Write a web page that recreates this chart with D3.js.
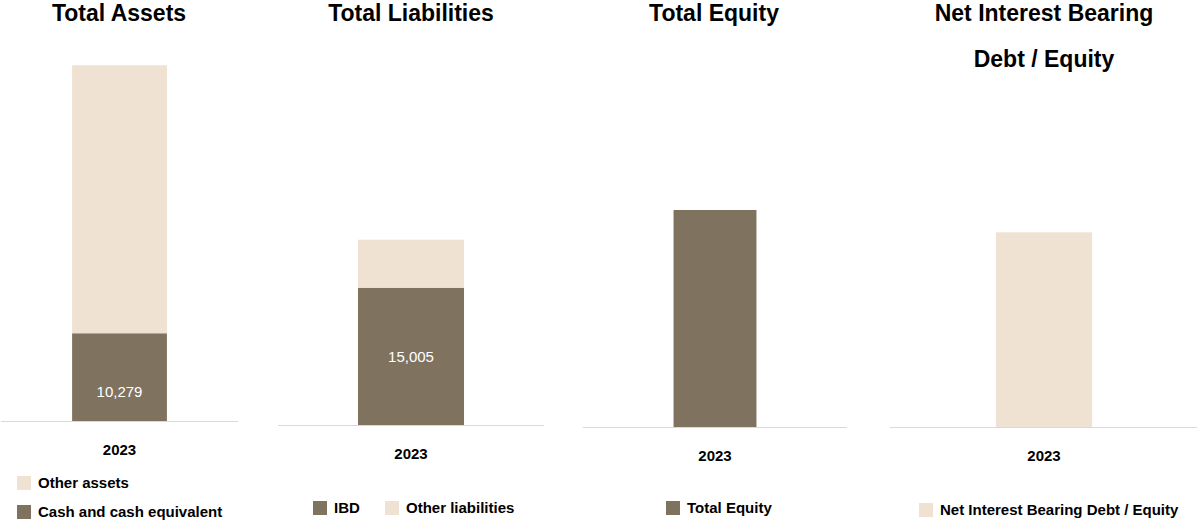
<!DOCTYPE html>
<html>
<head>
  <title>Balance sheet 2023</title>
  <script src="https://d3js.org/d3.v7.min.js"></script>
  <style>
    body { margin: 0; background: #fff; }
    text { font-family: "Liberation Sans", Arial, sans-serif; }
  </style>
</head>
<body>
  <div id="chart"></div>

  <script>
    // values (2023)
    var years = ["2023"];
    var cashValues = [10279];
    var otherAssetsValues = [31400];
    var ibdValues = [15005];
    var otherLiabilitiesValues = [5250];
    var equityValues = [21430];
    var nibdEquityValues = [0.22];

    var dark = "#7f735f";
    var light = "#efe2d3";

    var panels = [
      {
        title: ["Total Assets"], titleX: 119,
        x0: 1, x1: 238, base: 421, yMax: 41700, top: 65, pad: 0.4286,
        series: [
          {name: "Cash and cash equivalent", values: cashValues, color: dark, label: true, labelShift: 15},
          {name: "Other assets", values: otherAssetsValues, color: light}
        ],
        legend: [
          {name: "Other assets", color: light, x: 17, y: 483},
          {name: "Cash and cash equivalent", color: dark, x: 17, y: 512}
        ],
        yearY: 455
      },
      {
        title: ["Total Liabilities"], titleX: 411,
        x0: 278, x1: 544, base: 425, yMax: 39350, top: 65, pad: 0.43,
        series: [
          {name: "IBD", values: ibdValues, color: dark, label: true, labelShift: 1},
          {name: "Other liabilities", values: otherLiabilitiesValues, color: light}
        ],
        legend: [
          {name: "IBD", color: dark, x: 313, y: 508},
          {name: "Other liabilities", color: light, x: 385, y: 508}
        ],
        yearY: 459
      },
      {
        title: ["Total Equity"], titleX: 714,
        x0: 583, x1: 847, base: 427, yMax: 35750, top: 65, pad: 0.522,
        series: [
          {name: "Total Equity", values: equityValues, color: dark}
        ],
        legend: [
          {name: "Total Equity", color: dark, x: 666, y: 508}
        ],
        yearY: 461
      },
      {
        title: ["Net Interest Bearing", "Debt / Equity"], titleX: 1044,
        x0: 890, x1: 1198, base: 427, yMax: 0.409, top: 65, pad: 0.524,
        series: [
          {name: "Net Interest Bearing Debt / Equity", values: nibdEquityValues, color: light}
        ],
        legend: [
          {name: "Net Interest Bearing Debt / Equity", color: light, x: 919, y: 510}
        ],
        yearY: 461
      }
    ];

    var svg = d3.select("#chart")
      .append("svg")
      .attr("width", 1197)
      .attr("height", 521);

    panels.forEach(function(p) {
      var g = svg.append("g");

      var x = d3.scaleBand()
        .domain(years)
        .range([p.x0, p.x1])
        .padding(p.pad);

      var y = d3.scaleLinear()
        .domain([0, p.yMax])
        .range([p.base, p.top]);

      // titles
      p.title.forEach(function(t, i) {
        g.append("text")
          .attr("x", p.titleX)
          .attr("y", 21 + i * 46)
          .attr("text-anchor", "middle")
          .attr("font-size", "23px")
          .attr("font-weight", "bold")
          .attr("fill", "#000")
          .text(t);
      });

      // stacked bars
      var stack = d3.stack()
        .keys(p.series.map(function(s, i) { return i; }))
        .value(function(d, k) { return p.series[k].values[d]; });
      var stacked = stack(years.map(function(yr, i) { return i; }));

      stacked.forEach(function(layer, k) {
        var s = p.series[k];
        g.selectAll(null)
          .data(layer)
          .enter()
          .append("rect")
          .attr("x", function(d, i) { return x(years[i]); })
          .attr("width", x.bandwidth())
          .attr("y", function(d) { return y(d[1]); })
          .attr("height", function(d) { return y(d[0]) - y(d[1]); })
          .attr("fill", s.color);

        if (s.label) {
          g.selectAll(null)
            .data(layer)
            .enter()
            .append("text")
            .attr("x", function(d, i) { return x(years[i]) + x.bandwidth() / 2; })
            .attr("y", function(d) { return (y(d[0]) + y(d[1])) / 2 + 5 + s.labelShift; })
            .attr("text-anchor", "middle")
            .attr("font-size", "15px")
            .attr("fill", "#fff")
            .text(function(d) { return d3.format(",")(d[1] - d[0]); });
        }
      });

      // baseline
      g.append("line")
        .attr("x1", p.x0)
        .attr("x2", p.x1)
        .attr("y1", y(0) + 0.5)
        .attr("y2", y(0) + 0.5)
        .attr("stroke", "#d9d9d9")
        .attr("stroke-width", 1);

      // category label
      g.selectAll(null)
        .data(years)
        .enter()
        .append("text")
        .attr("x", function(d) { return x(d) + x.bandwidth() / 2; })
        .attr("y", p.yearY)
        .attr("text-anchor", "middle")
        .attr("font-size", "15px")
        .attr("font-weight", "bold")
        .attr("fill", "#000")
        .text(function(d) { return d; });

      // legend
      p.legend.forEach(function(l) {
        g.append("rect")
          .attr("x", l.x)
          .attr("y", l.y - 7)
          .attr("width", 14)
          .attr("height", 14)
          .attr("fill", l.color);
        g.append("text")
          .attr("x", l.x + 21)
          .attr("y", l.y + 5)
          .attr("font-size", "15px")
          .attr("font-weight", "bold")
          .attr("fill", "#000")
          .text(l.name);
      });
    });
  </script>
</body>
</html>
